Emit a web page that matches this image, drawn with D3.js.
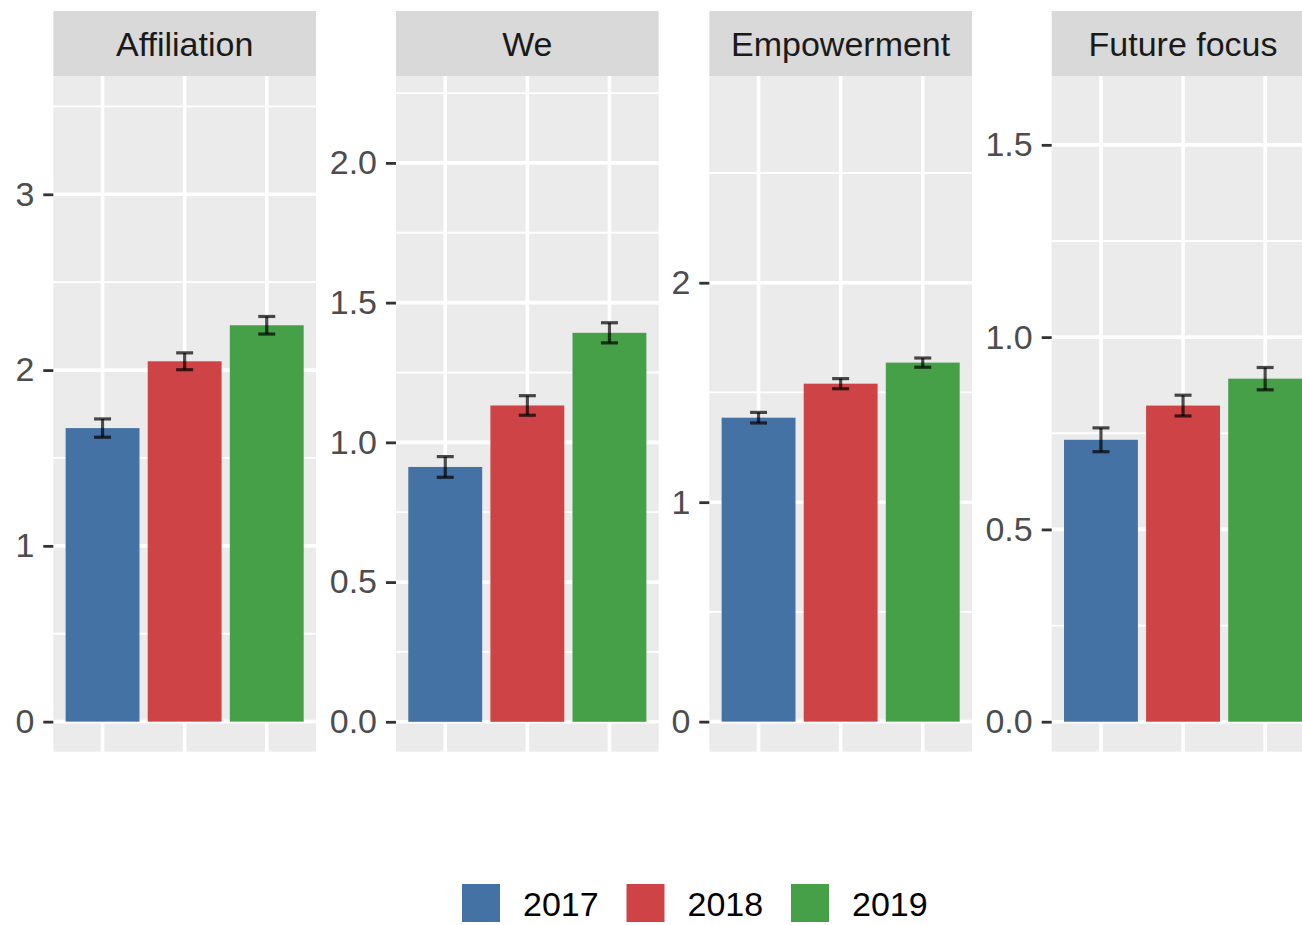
<!DOCTYPE html>
<html>
<head>
<meta charset="utf-8">
<script src="https://cdn.jsdelivr.net/npm/d3@7"></script>
<style>
  body { margin: 0; background: #fff; }
  svg text { font-family: "Liberation Sans", Arial, Helvetica, sans-serif; }
</style>
</head>
<body>
<div id="viz"></div>
<script>
// data
let facets = ["Affiliation", "We", "Empowerment", "Future focus"];
let years = ["2017", "2018", "2019"];

let affiliation = [1.67, 2.05, 2.255];
let we = [0.912, 1.132, 1.392];
let empowerment = [1.385, 1.54, 1.636];
let futureFocus = [0.733, 0.822, 0.892];

let seAffiliation = [0.052, 0.048, 0.05];
let seWe = [0.037, 0.035, 0.036];
let seEmpowerment = [0.024, 0.023, 0.021];
let seFutureFocus = [0.031, 0.027, 0.029];

let tickValues = [[0, 1, 2, 3], [0, 0.5, 1, 1.5, 2], [0, 1, 2], [0, 0.5, 1, 1.5]];
let tickLabels = [["0", "1", "2", "3"], ["0.0", "0.5", "1.0", "1.5", "2.0"], ["0", "1", "2"], ["0.0", "0.5", "1.0", "1.5"]];
let yLimits = [[-0.171, 3.673], [-0.107, 2.311], [-0.137, 2.942], [-0.078, 1.679]];

let means = [affiliation, we, empowerment, futureFocus];
let errs = [seAffiliation, seWe, seEmpowerment, seFutureFocus];

let colors = d3.scaleOrdinal().domain(years).range(['#4572a4', '#ce4446', '#45a048']);

let width = 1302, height = 925;
let panelLefts = [53.3, 396, 709.3, 1051.7],
    panelWidth = 262.7,
    stripTop = 11,
    panelTop = 76,
    panelBottom = 751.7;

let svg = d3.select('#viz').append('svg')
    .attr('width', width)
    .attr('height', height);

let xScale = d3.scaleBand()
    .domain(years)
    .range([0, panelWidth])
    .paddingInner(0.1)
    .paddingOuter(0.15);

facets.forEach(function(name, f) {
  let g = svg.append('g')
      .attr('transform', 'translate(' + panelLefts[f] + ',0)');

  let yScale = d3.scaleLinear()
      .domain(yLimits[f])
      .range([panelBottom, panelTop]);

  // strip
  g.append('rect')
      .attr('x', 0).attr('y', stripTop)
      .attr('width', panelWidth).attr('height', panelTop - stripTop)
      .style('fill', '#d9d9d9');
  g.append('text')
      .attr('x', panelWidth / 2)
      .attr('y', 56)
      .attr('text-anchor', 'middle')
      .style('font-size', '34px')
      .style('fill', '#1a1a1a')
      .text(name);

  // panel background
  g.append('rect')
      .attr('x', 0).attr('y', panelTop)
      .attr('width', panelWidth).attr('height', panelBottom - panelTop)
      .style('fill', '#ebebeb');

  // minor grid
  let ticks = tickValues[f];
  let step = ticks[1] - ticks[0];
  let minors = [];
  for (let v = ticks[0] - step / 2; v <= yLimits[f][1]; v += step) {
    if (v >= yLimits[f][0]) minors.push(v);
  }
  g.selectAll('.minor').data(minors)
    .enter().append('line')
      .attr('x1', 0).attr('x2', panelWidth)
      .attr('y1', function(d) { return yScale(d); })
      .attr('y2', function(d) { return yScale(d); })
      .style('stroke', '#fff')
      .style('stroke-width', 1.8);

  // major grid
  g.selectAll('.major').data(ticks)
    .enter().append('line')
      .attr('x1', 0).attr('x2', panelWidth)
      .attr('y1', function(d) { return yScale(d); })
      .attr('y2', function(d) { return yScale(d); })
      .style('stroke', '#fff')
      .style('stroke-width', 3.6);
  g.selectAll('.vgrid').data(years)
    .enter().append('line')
      .attr('x1', function(d) { return xScale(d) + xScale.bandwidth() / 2; })
      .attr('x2', function(d) { return xScale(d) + xScale.bandwidth() / 2; })
      .attr('y1', panelTop).attr('y2', panelBottom)
      .style('stroke', '#fff')
      .style('stroke-width', 3.6);

  // bars
  g.selectAll('.bar').data(years)
    .enter().append('rect')
      .attr('x', function(d) { return xScale(d); })
      .attr('width', xScale.bandwidth())
      .attr('y', function(d, i) { return yScale(means[f][i]); })
      .attr('height', function(d, i) { return yScale(0) - yScale(means[f][i]); })
      .style('fill', function(d) { return colors(d); });

  // error bars
  let capW = xScale.bandwidth() * 0.23;
  let eb = g.selectAll('.eb').data(years)
    .enter().append('g')
      .style('stroke', '#000')
      .style('stroke-opacity', 0.7)
      .style('stroke-width', 3.2);
  eb.append('line')
      .attr('x1', function(d) { return xScale(d) + xScale.bandwidth() / 2; })
      .attr('x2', function(d) { return xScale(d) + xScale.bandwidth() / 2; })
      .attr('y1', function(d, i) { return yScale(means[f][i] + errs[f][i]); })
      .attr('y2', function(d, i) { return yScale(means[f][i] - errs[f][i]); });
  [1, -1].forEach(function(sign) {
    eb.append('line')
        .attr('x1', function(d) { return xScale(d) + xScale.bandwidth() / 2 - capW / 2; })
        .attr('x2', function(d) { return xScale(d) + xScale.bandwidth() / 2 + capW / 2; })
        .attr('y1', function(d, i) { return yScale(means[f][i] + sign * errs[f][i]); })
        .attr('y2', function(d, i) { return yScale(means[f][i] + sign * errs[f][i]); });
  });

  // y axis
  let yAxis = d3.axisLeft(yScale)
      .tickValues(ticks)
      .tickFormat(function(d, i) { return tickLabels[f][i]; })
      .tickSize(10)
      .tickPadding(9);
  let ag = g.append('g').call(yAxis);
  ag.select('.domain').remove();
  ag.selectAll('line').style('stroke', '#333').style('stroke-width', 2.8);
  ag.selectAll('text')
      .style('font-size', '34px')
      .style('fill', '#4d4d4d')
      .style('font-family', '"Liberation Sans", Arial, sans-serif');
});

// legend
let legend = svg.append('g').attr('transform', 'translate(462,884)');
let items = legend.selectAll('g').data(years)
  .enter().append('g')
    .attr('transform', function(d, i) { return 'translate(' + (i * 164.5) + ',0)'; });
items.append('rect')
    .attr('width', 38).attr('height', 38)
    .style('fill', function(d) { return colors(d); });
items.append('text')
    .attr('x', 61)
    .attr('y', 32)
    .style('font-size', '34px')
    .style('fill', '#000')
    .text(function(d) { return d; });
</script>
</body>
</html>
